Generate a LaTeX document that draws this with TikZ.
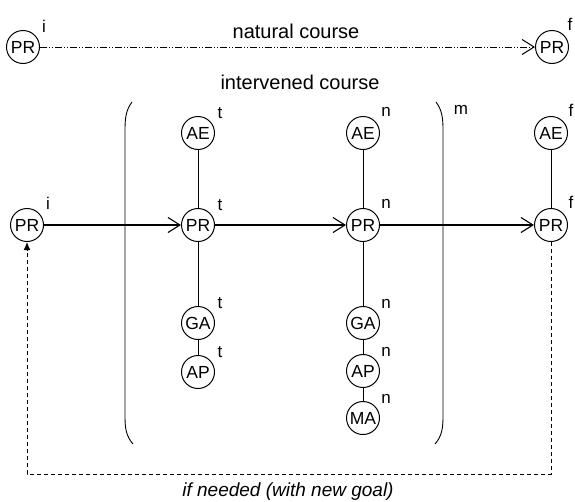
\documentclass[tikz,border=0pt]{standalone}
\usepackage{fontspec}
\setmainfont{Liberation Sans}
\usetikzlibrary{arrows.meta}
\begin{document}
\begin{tikzpicture}[x=1pt,y=-1pt,
  st/.style={circle,draw,line width=1pt,minimum size=33pt,inner sep=0pt,font=\fontsize{17.5}{17.5}\selectfont},
  sup/.style={inner sep=0pt,font=\fontsize{17}{17}\selectfont},
  title/.style={inner sep=0pt,font=\fontsize{20}{20}\selectfont},
  link/.style={line width=0.8pt},
  flow/.style={line width=1.1pt,-{Straight Barb[length=12pt,width=15pt,line width=1.1pt]}},
  natflow/.style={line width=0.9pt,dash pattern=on 7pt off 2pt on 1pt off 2pt on 1pt off 2pt,-{Straight Barb[length=12pt,width=15pt,line width=1pt]}},
  back/.style={line width=1pt,dash pattern=on 4pt off 3pt,-{Latex[length=8pt,width=7pt]}},
  brack/.style={line width=0.9pt}]
\useasboundingbox (0,0) rectangle (575,501);
% natural course
\node[st] (n0) at (23,47) {PR};
\node[st] (n1) at (552,47) {PR};
\node[sup] (n0s) at ([shift={(21,-21)}]n0.center) {i};
\node[sup] (n1s) at ([shift={(18,-23)}]n1.center) {f};
\node[title] (nat) at (296,31) {natural course};
\draw[natflow] (n0) -- (n1);
\node[title] (int) at (300,82) {intervened course};
% brackets
\draw[brack] (132,102) .. controls (126,110) and (125,118) .. (125,130) -- (125,416) .. controls (125,428) and (126,436) .. (133,444);
\draw[brack] (436,102) .. controls (442,110) and (443,118) .. (443,130) -- (443,416) .. controls (443,428) and (442,436) .. (435,444);
\node[sup] (mm) at (461,110) {m};
% nodes
\node[st] (p0) at (27,225) {PR};
\node[sup] (p0s) at ([shift={(21,-22)}]p0.center) {i};
\node[st] (a1) at (198,133) {AE};
\node[st] (p1) at (198,225) {PR};
\node[st] (g1) at (198,323) {GA};
\node[st] (ap1) at (198,372) {AP};
\node[sup] (a1s) at ([shift={(22,-20)}]a1.center) {t};
\node[sup] (p1s) at ([shift={(22,-20)}]p1.center) {t};
\node[sup] (g1s) at ([shift={(22,-20)}]g1.center) {t};
\node[sup] (ap1s) at ([shift={(22,-20)}]ap1.center) {t};
\node[st] (a2) at (363,133) {AE};
\node[st] (p2) at (363,225) {PR};
\node[st] (g2) at (363,323) {GA};
\node[st] (ap2) at (363,371) {AP};
\node[st] (m2) at (363,418) {MA};
\node[sup] (a2s) at ([shift={(23,-21)}]a2.center) {n};
\node[sup] (p2s) at ([shift={(23,-21)}]p2.center) {n};
\node[sup] (g2s) at ([shift={(23,-19)}]g2.center) {n};
\node[sup] (ap2s) at ([shift={(23,-19)}]ap2.center) {n};
\node[sup] (m2s) at ([shift={(23,-19)}]m2.center) {n};
\node[st] (a3) at (551,133) {AE};
\node[st] (p3) at (551,225) {PR};
\node[sup] (a3s) at ([shift={(20,-23)}]a3.center) {f};
\node[sup] (p3s) at ([shift={(20,-23)}]p3.center) {f};
% links
\draw[link] (a1) -- (p1);
\draw[link] (p1) -- (g1);
\draw[link] (g1) -- (ap1);
\draw[link] (a2) -- (p2);
\draw[link] (p2) -- (g2);
\draw[link] (g2) -- (ap2);
\draw[link] (ap2) -- (m2);
\draw[link] (a3) -- (p3);
\draw[flow] (p0) -- (p1);
\draw[flow] (p1) -- (p2);
\draw[flow] (p2) -- (p3);
% feedback
\coordinate (fb1) at (551,474);
\coordinate (fb2) at (27,474);
\draw[back] (p3.south) -- (fb1) -- (fb2) -- (p0.south);
\node[title,font=\fontsize{19}{19}\selectfont\itshape] (fbl) at (288,492) {if needed (with new goal)};
\end{tikzpicture}
\end{document}
